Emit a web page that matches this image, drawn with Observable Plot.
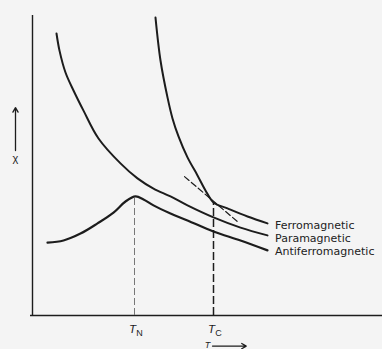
<!DOCTYPE html>
<html>
<head>
<meta charset="utf-8">
<script src="https://cdn.jsdelivr.net/npm/d3@7"></script>
<script src="https://cdn.jsdelivr.net/npm/@observablehq/plot@0.6"></script>
<style>
  html, body { margin: 0; padding: 0; background: #f4f4f4; }
  #chart svg { display: block; }
</style>
</head>
<body>
<div id="chart"></div>
<script>
// Temperature (arbitrary units) and susceptibility (arbitrary units)
const paraT   = [0.96, 1.08, 1.32, 1.64, 2.04, 2.64, 3.52, 4.2, 4.84, 5.52, 6.2, 7.24, 8.32, 9.4];
const paraChi = [9.4, 8.83, 8.1, 7.5, 6.83, 5.9, 5.07, 4.57, 4.23, 3.97, 3.67, 3.27, 2.93, 2.67];

const ferroT   = [4.92, 5.12, 5.4, 5.6, 5.84, 6.2, 6.6, 6.92, 7.24, 7.8, 8.6, 9.4];
const ferroChi = [9.93, 8.5, 7.27, 6.57, 5.97, 5.27, 4.67, 4.17, 3.77, 3.57, 3.3, 3.07];

const antiT   = [0.6, 1.24, 1.92, 2.6, 3.24, 3.72, 4.12, 4.44, 4.84, 5.52, 6.2, 7.24, 8.32, 9.4];
const antiChi = [2.43, 2.5, 2.73, 3.07, 3.43, 3.8, 3.97, 3.87, 3.67, 3.4, 3.17, 2.8, 2.5, 2.17];

const tangentT   = [6.08, 8.24];
const tangentChi = [4.63, 3.1];

const TN = 4.08, TNchi = 3.97;
const TC = 7.24, TCchi = 3.77;

const seriesNames = ["Ferromagnetic", "Paramagnetic", "Antiferromagnetic"];
const labelChi    = [3.0, 2.57, 2.13];
const labelT      = 9.7;

const toRows = (xs, ys) => xs.map((x, i) => ({x, y: ys[i]}));

const ink = "#1c1c1c";
const font = "Liberation Sans, Arial, sans-serif";
const labelFont = "DejaVu Sans, sans-serif";

const chart = Plot.plot({
  width: 382,
  height: 349,
  marginLeft: 32,
  marginRight: 0,
  marginTop: 15,
  marginBottom: 34,
  style: {background: "#f4f4f4", fontFamily: font, overflow: "visible"},
  x: {domain: [0, 14], axis: null},
  y: {domain: [0, 10], axis: null},
  marks: [
    Plot.ruleX([0], {y1: 0, y2: 10, stroke: ink, strokeWidth: 1.4}),
    Plot.ruleY([0], {x1: -0.08, x2: 14, stroke: ink, strokeWidth: 1.4}),
    Plot.ruleX([TN], {y1: 0, y2: TNchi, stroke: "#777", strokeWidth: 1, strokeDasharray: "7,3"}),
    Plot.ruleX([TC], {y1: 0, y2: TCchi, stroke: ink, strokeWidth: 1.5, strokeDasharray: "8,3"}),
    Plot.line(toRows(tangentT, tangentChi), {x: "x", y: "y", stroke: ink, strokeWidth: 1.2, strokeDasharray: "6,3"}),
    Plot.line(toRows(paraT, paraChi), {x: "x", y: "y", stroke: ink, strokeWidth: 2, curve: "catmull-rom"}),
    Plot.line(toRows(ferroT, ferroChi), {x: "x", y: "y", stroke: ink, strokeWidth: 2, curve: "catmull-rom"}),
    Plot.line(toRows(antiT, antiChi), {x: "x", y: "y", stroke: ink, strokeWidth: 2.2, curve: "catmull-rom"}),
    Plot.text(seriesNames, {x: () => labelT, y: (d, i) => labelChi[i], text: d => d,
      textAnchor: "start", fontSize: 11, fill: "#222", fontFamily: labelFont}),
    Plot.text(["T", "T"], {x: (d, i) => [TN, TC][i], y: () => -0.47, text: d => d,
      fontStyle: "italic", fontSize: 11.5, fill: ink, dx: -2, fontFamily: font}),
    Plot.text(["N", "C"], {x: (d, i) => [TN, TC][i], y: () => -0.58, text: d => d,
      fontSize: 9, fill: ink, dx: 5, fontFamily: font}),
    Plot.arrow([0], {x1: -0.68, x2: -0.68, y1: 5.5, y2: 6.93, stroke: ink, strokeWidth: 1.3, headLength: 6}),
    Plot.text(["χ"], {x: () => -0.68, y: () => 5.25, text: d => d, fontSize: 11, fill: ink, fontFamily: font}),
    Plot.text(["T"], {x: () => 7.0, y: () => -0.98, text: d => d, fontStyle: "italic", fontSize: 9, fill: ink, fontFamily: font}),
    Plot.arrow([0], {x1: 7.2, x2: 8.55, y1: -1.02, y2: -1.02, stroke: ink, strokeWidth: 1.3, headLength: 6})
  ]
});
document.getElementById("chart").appendChild(chart);
</script>
</body>
</html>
